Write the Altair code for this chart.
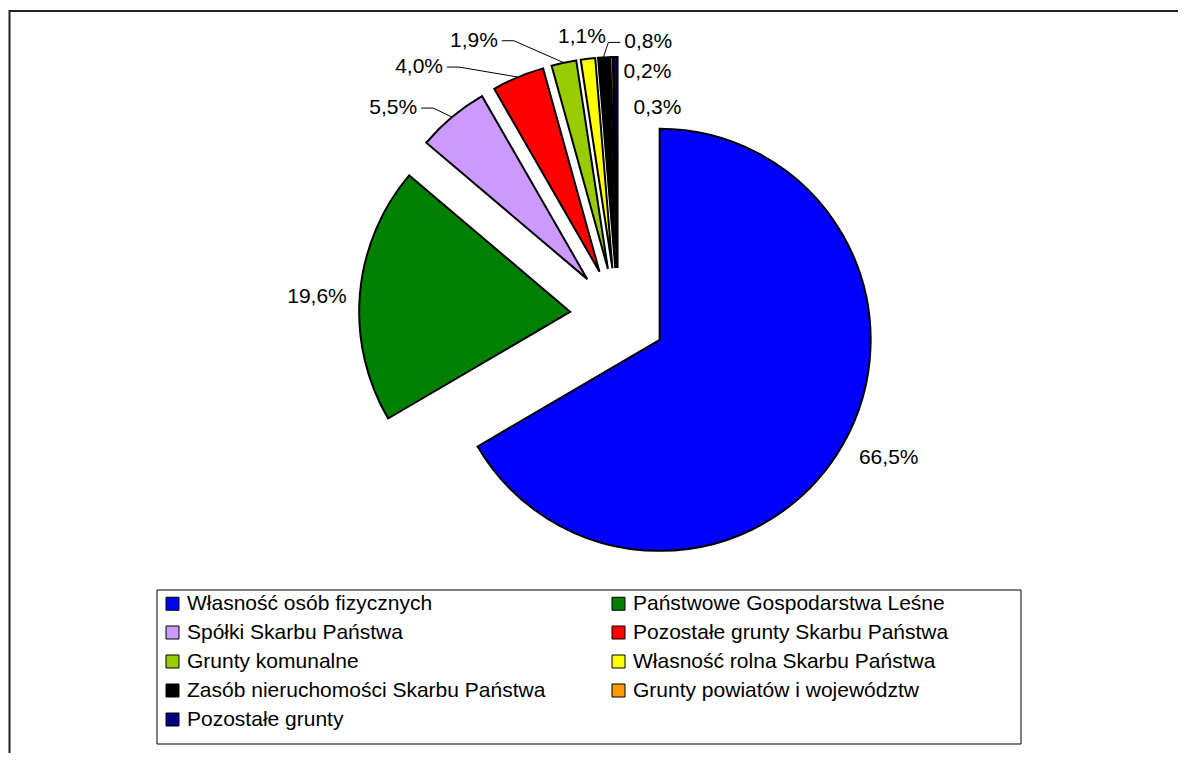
import math
import altair as alt
import pandas as pd

# ---------------- data ----------------
names = [
    "Własność osób fizycznych",
    "Państwowe Gospodarstwa Leśne",
    "Spółki Skarbu Państwa",
    "Pozostałe grunty Skarbu Państwa",
    "Grunty komunalne",
    "Własność rolna Skarbu Państwa",
    "Zasób nieruchomości Skarbu Państwa",
    "Grunty powiatów i województw",
    "Pozostałe grunty",
]
shares = [66.5, 19.6, 5.5, 4.0, 1.9, 1.1, 0.8, 0.2, 0.3]
labels = ["66,5%", "19,6%", "5,5%", "4,0%", "1,9%", "1,1%", "0,8%", "0,2%", "0,3%"]

# ---------------- style / layout ----------------
colors = ["#0000FF", "#008000", "#CC99FF", "#FF0000", "#99CC00",
          "#FFFF00", "#000000", "#FF9900", "#000080"]
W, H = 1170, 745
CX, CY = 610, 308          # pie centre (before explosion)
R = 211                    # pie radius
EXPLODE = 48               # explosion distance of every slice
FONT = "Liberation Sans"
# label anchor offset from the middle of each slice's outer arc
label_offset = [(46, 13), (-43, 3), (-35, -9), (-75, -10), (-66, -22),
                (-6, -22), (21, -15), (12, 15), (18, 51)]
label_align = ["center", "center", "right", "right", "right",
               "center", "left", "left", "left"]
has_leader = [False, False, True, True, True, False, True, False, False]

# legend is filled column by column (5 rows); order entries so that the
# two columns read row by row like the original
n_rows = 5
legend_order = [i for c in range(2) for i in range(c, len(names), 2)]
legend_domain = [names[i] for i in legend_order]
legend_range = [colors[i] for i in legend_order]

# ---------------- geometry derived from the data ----------------
total = sum(shares)
rows, lead_rows = [], []
cum = 0.0
for i, (n, v, lab) in enumerate(zip(names, shares, labels)):
    a0 = 2 * math.pi * cum / total
    cum += v
    a1 = 2 * math.pi * cum / total
    mid = (a0 + a1) / 2
    ax = CX + EXPLODE * math.sin(mid)
    ay = CY - EXPLODE * math.cos(mid)
    ox = ax + R * math.sin(mid)
    oy = ay - R * math.cos(mid)
    dx, dy = label_offset[i]
    lx, ly = ox + dx, oy + dy
    rows.append(dict(name=n, value=v, label=lab, idx=i, a0=a0, a1=a1,
                     ax=ax, ay=ay, lx=lx, ly=ly, align=label_align[i]))
    if has_leader[i]:
        s = 1 if label_align[i] == "right" else -1
        lead_rows += [
            dict(name=n, k=0, x=lx + 4 * s, y=ly),
            dict(name=n, k=1, x=lx + 16 * s, y=ly),
            dict(name=n, k=2, x=ox, y=oy),
        ]
df = pd.DataFrame(rows)
lead_df = pd.DataFrame(lead_rows)

X = lambda f: alt.X(f, scale=None, axis=None)
Y = lambda f: alt.Y(f, scale=None, axis=None)

one = pd.DataFrame({"o": [0]})
frame_top = alt.Chart(one).mark_rule(color="#222222", strokeWidth=2).encode(
    x=alt.value(1), x2=alt.value(W), y=alt.value(3))
frame_left = alt.Chart(one).mark_rule(color="#222222", strokeWidth=2).encode(
    x=alt.value(1.5), y=alt.value(2), y2=alt.value(H))
legend_box = alt.Chart(one).mark_rect(fill="white", stroke="black", strokeWidth=1).encode(
    x=alt.value(149), x2=alt.value(1013), y=alt.value(582), y2=alt.value(736))

pie = alt.Chart(df).mark_arc(radius=R, stroke="black", strokeWidth=2).encode(
    theta=alt.Theta("a0:Q", scale=None),
    theta2="a1:Q",
    x=X("ax:Q"),
    y=Y("ay:Q"),
    order=alt.Order("idx:Q"),
    color=alt.Color(
        "name:N",
        scale=alt.Scale(domain=legend_domain, range=legend_range),
        legend=alt.Legend(
            orient="none", legendX=154, legendY=585, columns=2, title=None,
            symbolType="square", symbolSize=169, symbolStrokeColor="black",
            symbolStrokeWidth=1, symbolOpacity=1,
            labelFont=FONT, labelFontSize=21, labelColor="black",
            labelLimit=1000, labelOffset=4, columnPadding=62, rowPadding=7,
            padding=0,
        ),
    ),
)

leaders = alt.Chart(lead_df).mark_line(color="black", strokeWidth=1).encode(
    x=X("x:Q"), y=Y("y:Q"), detail="name:N", order="k:Q")

texts = [
    alt.Chart(df).transform_filter(alt.datum.align == a).mark_text(
        align=a, baseline="middle", font=FONT, fontSize=21, color="black"
    ).encode(x=X("lx:Q"), y=Y("ly:Q"), text="label:N")
    for a in ["left", "center", "right"]
]

chart = alt.layer(frame_top, frame_left, legend_box, pie, leaders, *texts).properties(
    width=W, height=H, autosize="none", padding=0
).configure_view(stroke=None)

chart.save("out.html", embed_options={"renderer": "svg", "actions": False})
